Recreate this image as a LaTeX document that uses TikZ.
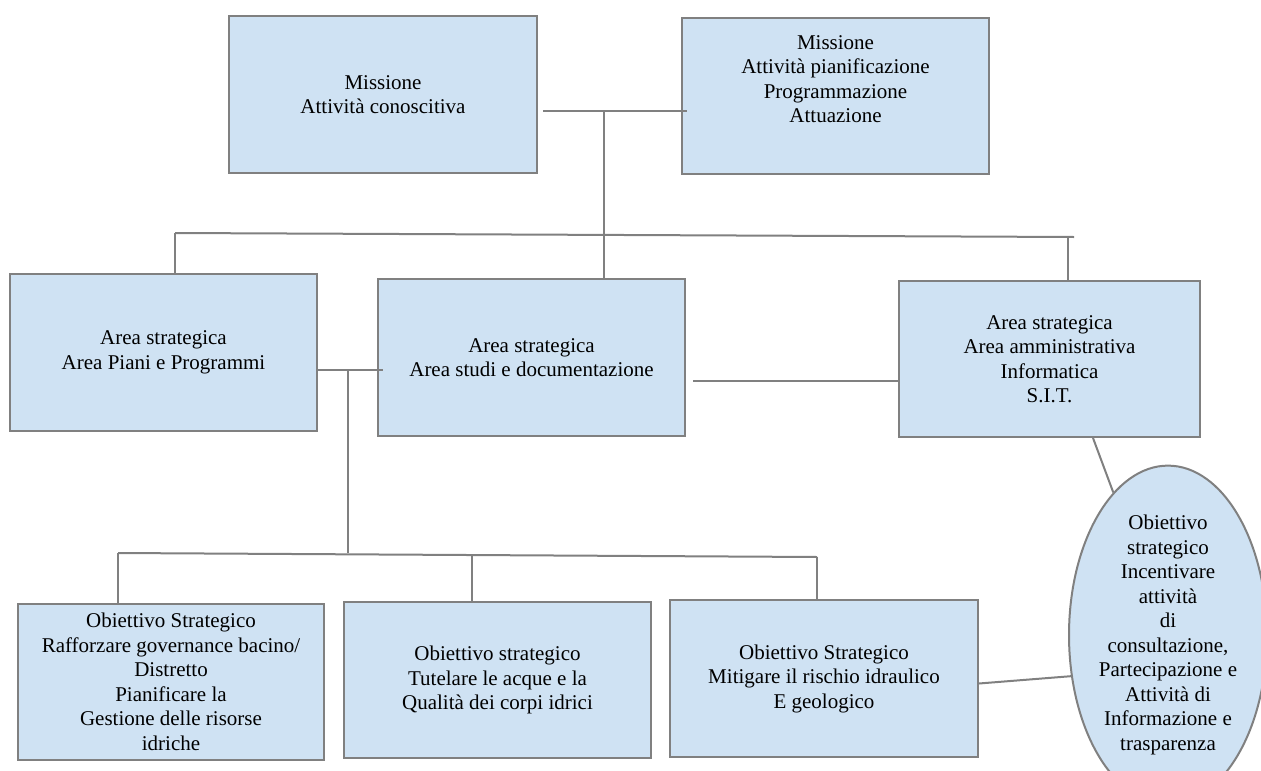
\documentclass[tikz,border=0pt]{standalone}
\usepackage{fontspec}
\setmainfont{Liberation Serif}
\usetikzlibrary{shapes.geometric}
\definecolor{boxfill}{HTML}{CFE2F3}
\definecolor{linegray}{HTML}{808080}
\begin{document}
\begin{tikzpicture}[x=1pt,y=-1pt,
  boxnode/.style={draw=linegray, fill=boxfill, line width=2pt, rectangle, inner sep=0pt,
    align=center, font=\fontsize{21}{24.5}\selectfont},
  ellnode/.style={draw=linegray, fill=boxfill, line width=2pt, ellipse, inner sep=0pt,
    align=center, font=\fontsize{21}{24.5}\selectfont},
  txt/.style={align=center, font=\fontsize{21}{24.5}\selectfont, inner sep=0pt},
  conn/.style={draw=linegray, line width=2pt}]
\useasboundingbox (0,0) rectangle (1261,771);

% top level
\node[boxnode, minimum width=308pt, minimum height=157pt] (m1) at (383,94.5)
  {Missione\\Attività conoscitiva};
\node[boxnode, minimum width=307pt, minimum height=156pt] (m2) at (835.5,96) {};
\node[txt] (m2t) at (835.5,79) {Missione\\Attività pianificazione\\Programmazione\\Attuazione};

% areas
\node[boxnode, minimum width=307pt, minimum height=157pt] (a1) at (163.5,352.5)
  {Area strategica\\Area Piani e Programmi};
\node[boxnode, minimum width=307pt, minimum height=157pt] (a2) at (531.5,357.5)
  {Area strategica\\Area studi e documentazione};
\node[boxnode, minimum width=301pt, minimum height=156pt] (a3) at (1049.5,359)
  {Area strategica\\Area amministrativa\\Informatica\\S.I.T.};

% objectives
\node[boxnode, minimum width=306pt, minimum height=156pt] (o1) at (171,682)
  {Obiettivo Strategico\\Rafforzare governance bacino/\\Distretto\\Pianificare la\\Gestione delle risorse\\idriche};
\node[boxnode, minimum width=307pt, minimum height=156pt] (o2) at (497.5,680)
  {Obiettivo strategico\\Tutelare le acque e la\\Qualità dei corpi idrici};
\node[boxnode, minimum width=308pt, minimum height=157pt] (o3) at (824,678.5)
  {Obiettivo Strategico\\Mitigare il rischio idraulico\\E geologico};
\node[ellnode, minimum width=198pt, minimum height=282pt] (e) at (1168,635)
  {Obiettivo\\strategico\\Incentivare\\attività\\di\\consultazione,\\Partecipazione e\\Attività di\\Informazione e\\trasparenza};

% junction coordinates
\coordinate (j1) at (604,111);
\coordinate (b1L) at (175,233);
\coordinate (b1R) at (1074,237);
\coordinate (b1c) at (1068,237);
\coordinate (j2) at (348,370);
\coordinate (j3) at (348,553);
\coordinate (b2L) at (118,553);
\coordinate (b2m) at (472,555);
\coordinate (b2R) at (817,557);
\coordinate (j4) at (0,381);

% connectors
\draw[conn] ([xshift=5pt]m1.east |- j1) -- ([xshift=6pt]m2.west |- j1);
\draw[conn] (j1) -- (j1 |- a2.north);
\draw[conn] (b1L) -- (b1R);
\draw[conn] (b1L) -- (b1L |- a1.north);
\draw[conn] (b1c) -- (b1c |- a3.north);
\draw[conn] (a1.east |- j2) -- ([xshift=6pt]a2.west |- j2);
\draw[conn] (j2) -- (j3);
\draw[conn] (b2L) -- (b2R);
\draw[conn] (b2L) -- (b2L |- o1.north);
\draw[conn] (b2m) -- (b2m |- o2.north);
\draw[conn] (b2R) -- (b2R |- o3.north);
\draw[conn] ([xshift=7pt]a2.east |- j4) -- (a3.west |- j4);
\draw[conn] ([xshift=43.5pt]a3.south) -- (e.111);
\draw[conn] ([yshift=-5pt]o3.east) -- (e.203);
\end{tikzpicture}
\end{document}
